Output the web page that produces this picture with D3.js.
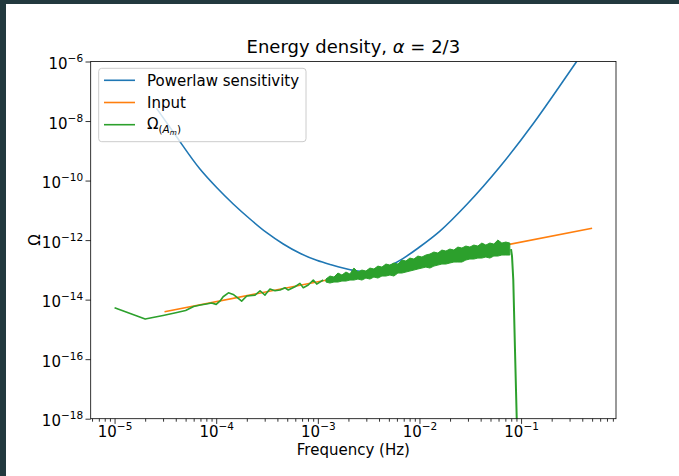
<!DOCTYPE html>
<html>
<head>
<meta charset="utf-8">
<script src="https://cdn.jsdelivr.net/npm/d3@7"></script>
<style>
  body { margin: 0; background: #ffffff; }
  svg { display: block; font-family: "DejaVu Sans", sans-serif; }
</style>
</head>
<body>
<svg id="chart" width="679" height="476"></svg>
<script>
// Powerlaw-integrated sensitivity curve
var sensFreq = [2.59e-5, 3.93e-5, 6.92e-5, 1.01e-4, 1.47e-4, 2.15e-4, 3.14e-4, 4.57e-4, 6.67e-4, 9.75e-4,
    1.32e-3, 2.23e-3, 3.02e-3, 4.75e-3, 6.93e-3, 1.01e-2, 1.59e-2, 2.92e-2, 6.19e-2, 0.132, 0.242, 0.352];
var sensOmega = [2.67e-8, 3.52e-9, 2.44e-10, 5.83e-11, 1.63e-11, 5.11e-12, 1.77e-12, 7.38e-13, 3.59e-13, 2.09e-13,
    1.51e-13, 9.64e-14, 8.57e-14, 1.24e-13, 2.44e-13, 5.98e-13, 2.01e-12, 1.57e-11, 2.92e-10, 8.26e-9, 1.56e-7, 1.0e-6];

// Injected power law (alpha = 2/3)
var inputFreq = [3.1e-5, 0.5];
var inputOmega = [3.92e-15, 2.50e-12];

// Recovered spectrum, low frequency part (sparse bins)
var lowFreq = [1e-5, 2e-5, 3e-5, 4e-5, 5e-5, 6e-5, 7e-5, 8e-5, 9e-5, 1e-4, 1.10e-4, 1.17e-4, 1.32e-4,
    1.47e-4, 1.65e-4, 1.78e-4, 2.00e-4, 2.41e-4, 2.70e-4, 3.02e-4, 3.38e-4, 3.79e-4, 4.25e-4, 4.75e-4,
    5.12e-4, 5.96e-4, 6.67e-4, 7.19e-4, 8.05e-4, 9.02e-4, 9.75e-4, 1.13e-3];
var lowOmega = [5.33e-15, 2.22e-15, 2.92e-15, 3.60e-15, 4.30e-15, 5.85e-15, 6.57e-15, 7.10e-15, 7.67e-15,
    6.93e-15, 9.31e-15, 1.25e-14, 1.70e-14, 1.50e-14, 1.10e-14, 8.95e-15, 1.32e-14, 1.42e-14, 1.99e-14,
    1.42e-14, 2.27e-14, 1.99e-14, 2.10e-14, 2.51e-14, 2.10e-14, 2.71e-14, 3.52e-14, 2.51e-14, 3.09e-14,
    4.55e-14, 3.33e-14, 4.55e-14];

// Recovered spectrum, dense noisy band (upper / lower envelope)
var bandFreq = [1.202e-3, 1.316e-3, 1.441e-3, 1.577e-3, 1.727e-3, 1.891e-3, 2.070e-3, 2.266e-3, 2.481e-3,
    2.716e-3, 2.974e-3, 3.256e-3, 3.564e-3, 3.902e-3, 4.272e-3, 4.677e-3, 5.120e-3, 5.606e-3, 6.137e-3,
    6.719e-3, 7.356e-3, 8.053e-3, 8.816e-3, 9.652e-3, 1.057e-2, 1.157e-2, 1.267e-2, 1.387e-2, 1.518e-2,
    1.662e-2, 1.820e-2, 1.992e-2, 2.181e-2, 2.388e-2, 2.614e-2, 2.862e-2, 3.133e-2, 3.430e-2, 3.755e-2,
    4.111e-2, 4.501e-2, 4.927e-2, 5.394e-2, 5.906e-2, 6.465e-2, 7.078e-2, 7.749e-2];
var bandHigh = [4.91e-14, 6.20e-14, 5.74e-14, 7.82e-14, 6.70e-14, 8.45e-14, 7.24e-14, 1.15e-13, 8.45e-14,
    9.86e-14, 9.13e-14, 1.15e-13, 1.07e-13, 1.34e-13, 1.24e-13, 1.57e-13, 1.45e-13, 1.70e-13, 1.57e-13,
    2.14e-13, 1.98e-13, 2.49e-13, 2.31e-13, 2.91e-13, 2.70e-13, 3.15e-13, 3.40e-13, 3.97e-13, 3.67e-13,
    4.63e-13, 4.29e-13, 5.01e-13, 4.63e-13, 5.84e-13, 5.41e-13, 6.32e-13, 5.84e-13, 6.82e-13, 6.32e-13,
    7.96e-13, 6.82e-13, 7.96e-13, 7.37e-13, 1.005e-12, 7.96e-13, 8.61e-13, 7.96e-13];
var bandLow = [3.90e-14, 3.61e-14, 3.90e-14, 3.90e-14, 4.21e-14, 4.21e-14, 4.55e-14, 4.55e-14, 4.91e-14,
    4.55e-14, 5.31e-14, 4.91e-14, 5.74e-14, 5.31e-14, 6.20e-14, 6.20e-14, 6.70e-14, 6.20e-14, 7.82e-14,
    7.82e-14, 8.45e-14, 9.13e-14, 9.86e-14, 1.07e-13, 1.15e-13, 1.24e-13, 1.15e-13, 1.34e-13, 1.45e-13,
    1.57e-13, 1.57e-13, 1.70e-13, 1.83e-13, 1.83e-13, 1.83e-13, 2.14e-13, 2.31e-13, 2.31e-13, 2.49e-13,
    2.49e-13, 2.70e-13, 2.49e-13, 2.91e-13, 2.91e-13, 3.15e-13, 3.15e-13, 3.15e-13];

// Recovered spectrum, cut-off above ~0.08 Hz
var cliffFreq = [0.0796, 0.0814, 0.0838, 0.0871, 0.0906, 0.0918];
var cliffOmega = [5.01e-13, 2.91e-13, 4.55e-14, 2.02e-16, 1.0e-18, 1.03e-19];

var xMajorTicks = [1e-5, 1e-4, 1e-3, 1e-2, 1e-1];
var yMajorTicks = [1e-18, 1e-16, 1e-14, 1e-12, 1e-10, 1e-8, 1e-6];
var yLimits = [1e-18, 1e-6];

(function () {
    var blue = "#1f77b4", orange = "#ff7f0e", green = "#2ca02c";
    var plot = { left: 90.7, right: 616, top: 61.5, bottom: 418.7 };
    var fontSize = 15, supSize = 10.5;
    var svg = d3.select("#chart");

    // dark window edge along the top and left of the screenshot
    svg.append("rect").attr("x", 0).attr("y", 0).attr("width", 679).attr("height", 4).attr("fill", "#22393e");
    svg.append("rect").attr("x", 0).attr("y", 0).attr("width", 6).attr("height", 476).attr("fill", "#22393e");

    // x limits: data extent plus 5% margin in log space, like matplotlib autoscale
    var allFreq = lowFreq.concat(inputFreq, sensFreq, cliffFreq);
    var lo = Math.log10(d3.min(allFreq)), hi = Math.log10(d3.max(allFreq));
    var pad = (hi - lo) * 0.05;
    var x = d3.scaleLog().domain([Math.pow(10, lo - pad), Math.pow(10, hi + pad)]).range([plot.left, plot.right]);
    var y = d3.scaleLog().domain(yLimits).range([plot.bottom, plot.top]);

    svg.append("clipPath").attr("id", "plot-clip")
        .append("rect")
        .attr("x", plot.left).attr("y", plot.top)
        .attr("width", plot.right - plot.left).attr("height", plot.bottom - plot.top);

    var zip = function (fs, vs) { return fs.map(function (f, i) { return [f, vs[i]]; }); };
    var line = d3.line()
        .x(function (d) { return x(d[0]); })
        .y(function (d) { return y(d[1]); });

    var marks = svg.append("g").attr("clip-path", "url(#plot-clip)");

    marks.append("path")
        .attr("d", line.curve(d3.curveMonotoneX)(zip(sensFreq, sensOmega)))
        .attr("fill", "none").attr("stroke", blue).attr("stroke-width", 1.6);
    line.curve(d3.curveLinear);

    marks.append("path")
        .attr("d", line(zip(inputFreq, inputOmega)))
        .attr("fill", "none").attr("stroke", orange).attr("stroke-width", 1.6);

    marks.append("path")
        .attr("d", line(zip(lowFreq, lowOmega)))
        .attr("fill", "none").attr("stroke", green).attr("stroke-width", 1.6)
        .attr("stroke-linejoin", "round");

    var band = d3.area()
        .x(function (d, i) { return x(bandFreq[i]); })
        .y0(function (d, i) { return y(bandLow[i]); })
        .y1(function (d, i) { return y(bandHigh[i]); });
    marks.append("path")
        .attr("d", band(bandFreq))
        .attr("fill", green).attr("stroke", green).attr("stroke-width", 1)
        .attr("stroke-linejoin", "miter");

    marks.append("path")
        .attr("d", line(zip(cliffFreq, cliffOmega)))
        .attr("fill", "none").attr("stroke", green).attr("stroke-width", 2);

    // axes
    var tickColor = "#000000";
    var isMajor = function (d) {
        return Math.abs(Math.log10(d) - Math.round(Math.log10(d))) < 1e-9;
    };
    var powerLabel = function (text, d) {
        var e = Math.round(Math.log10(d));
        text.text(null);
        text.append("tspan").text("10");
        text.append("tspan").attr("dy", -7).attr("font-size", supSize + "px")
            .text((e < 0 ? "\u2212" : "") + Math.abs(e));
    };

    var xMinor = d3.axisBottom(x)
        .tickValues(x.ticks().filter(function (d) { return !isMajor(d); }))
        .tickSize(3).tickFormat("");
    var xMajor = d3.axisBottom(x).tickValues(xMajorTicks).tickSize(5.2);
    var gxMinor = svg.append("g").attr("transform", "translate(0," + plot.bottom + ")").call(xMinor);
    var gx = svg.append("g").attr("transform", "translate(0," + plot.bottom + ")").call(xMajor);
    [gxMinor, gx].forEach(function (g) {
        g.select(".domain").remove();
        g.selectAll("line").attr("stroke", tickColor).attr("stroke-width", 0.8);
    });
    gx.selectAll("text")
        .attr("y", 18.6).attr("dy", null)
        .attr("font-size", fontSize + "px").attr("font-family", "DejaVu Sans").attr("fill", "#000")
        .each(function (d) { powerLabel(d3.select(this), d); });

    var yMajor = d3.axisLeft(y).tickValues(yMajorTicks).tickSize(5.2);
    var gy = svg.append("g").attr("transform", "translate(" + plot.left + ",0)").call(yMajor);
    gy.select(".domain").remove();
    gy.selectAll("line").attr("stroke", tickColor).attr("stroke-width", 0.8);
    gy.selectAll("text")
        .attr("x", -7.6).attr("y", 7.2).attr("dy", null)
        .attr("font-size", fontSize + "px").attr("font-family", "DejaVu Sans").attr("fill", "#000")
        .each(function (d) { powerLabel(d3.select(this), d); });

    // frame (spines)
    svg.append("rect")
        .attr("x", plot.left).attr("y", plot.top)
        .attr("width", plot.right - plot.left).attr("height", plot.bottom - plot.top)
        .attr("fill", "none").attr("stroke", "#000").attr("stroke-width", 0.8);

    // title and axis labels
    var cx = (plot.left + plot.right) / 2;
    var title = svg.append("text").attr("x", cx).attr("y", 53)
        .attr("text-anchor", "middle").attr("font-size", "18px");
    title.append("tspan").text("Energy density, ");
    title.append("tspan").attr("font-style", "italic").text("\u03b1");
    title.append("tspan").text(" = 2/3");

    svg.append("text").attr("x", cx).attr("y", 455)
        .attr("text-anchor", "middle").attr("font-size", fontSize + "px")
        .text("Frequency (Hz)");

    svg.append("text")
        .attr("transform", "translate(40," + ((plot.top + plot.bottom) / 2) + ") rotate(-90)")
        .attr("text-anchor", "middle").attr("font-size", fontSize + "px")
        .text("\u03a9");

    // legend
    var legend = svg.append("g");
    legend.append("rect")
        .attr("x", 98.7).attr("y", 68.3).attr("width", 207.3).attr("height", 73.4)
        .attr("rx", 3).attr("ry", 3)
        .attr("fill", "#ffffff").attr("fill-opacity", 0.8)
        .attr("stroke", "#cccccc").attr("stroke-width", 1);

    var entries = [
        { color: blue, label: "Powerlaw sensitivity" },
        { color: orange, label: "Input" },
        { color: green, label: null }
    ];
    entries.forEach(function (e, i) {
        var ly = 80.3 + i * 22.2;
        legend.append("line")
            .attr("x1", 104).attr("x2", 135).attr("y1", ly).attr("y2", ly)
            .attr("stroke", e.color).attr("stroke-width", 1.6);
        var t = legend.append("text").attr("x", 147).attr("y", ly + 5.3).attr("font-size", fontSize + "px");
        if (e.label !== null) {
            t.text(e.label);
        } else {
            // Omega_{(A_m)}
            t.attr("y", ly + 4.6);
            t.append("tspan").text("\u03a9");
            t.append("tspan").attr("font-size", supSize + "px").attr("dy", 3.2).text("(");
            t.append("tspan").attr("font-size", supSize + "px").attr("font-style", "italic").text("A");
            t.append("tspan").attr("font-size", "7.3px").attr("font-style", "italic").attr("dy", 2.2).text("m");
            t.append("tspan").attr("font-size", supSize + "px").attr("dy", -2.2).text(")");
        }
    });
})();
</script>
</body>
</html>
